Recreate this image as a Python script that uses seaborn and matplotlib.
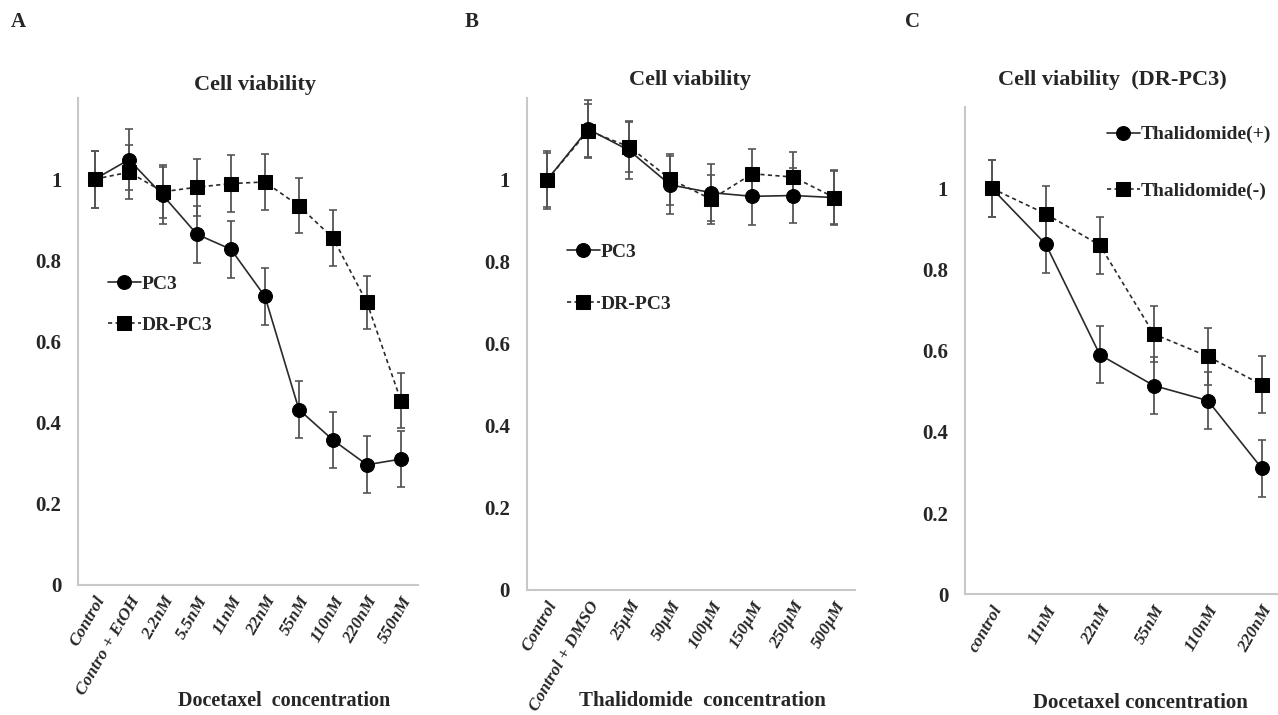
import numpy as np
import pandas as pd
import seaborn as sns
import matplotlib.pyplot as plt

# panel A - docetaxel
a_labels = ["Control", "Contro + EtOH", "2.2nM", "5.5nM", "11nM", "22nM", "55nM", "110nM", "220nM", "550nM"]
a_pc3 = [1.0, 1.048, 0.96, 0.864, 0.827, 0.711, 0.432, 0.357, 0.296, 0.31]
a_pc3_err = [0.07, 0.075, 0.07, 0.07, 0.07, 0.07, 0.07, 0.07, 0.07, 0.07]
a_dr = [1.0, 1.017, 0.969, 0.98, 0.989, 0.993, 0.934, 0.855, 0.696, 0.454]
a_dr_err = [0.07, 0.066, 0.065, 0.07, 0.07, 0.068, 0.068, 0.068, 0.066, 0.068]

# panel B - thalidomide
b_labels = ["Control", "Control + DMSO", "25\u03bcM", "50\u03bcM", "100\u03bcM", "150\u03bcM", "250\u03bcM", "500\u03bcM"]
b_pc3 = [1.0, 1.124, 1.072, 0.988, 0.969, 0.96, 0.962, 0.957]
b_pc3_err = [0.065, 0.07, 0.07, 0.07, 0.07, 0.07, 0.068, 0.065]
b_dr = [1.0, 1.12, 1.081, 1.002, 0.953, 1.015, 1.007, 0.957]
b_dr_err = [0.07, 0.065, 0.062, 0.062, 0.06, 0.06, 0.062, 0.068]

# panel C - DR-PC3 with/without thalidomide
c_labels = ["control", "11nM", "22nM", "55nM", "110nM", "220nM"]
c_plus = [1.0, 0.862, 0.59, 0.514, 0.477, 0.31]
c_plus_err = [0.07, 0.07, 0.07, 0.07, 0.07, 0.07]
c_minus = [1.0, 0.937, 0.86, 0.641, 0.586, 0.516]
c_minus_err = [0.07, 0.07, 0.07, 0.07, 0.07, 0.07]

sns.set_style("white")
plt.rcParams['font.family'] = ['Liberation Serif', 'DejaVu Serif']
plt.rcParams['font.weight'] = 'bold'

fig = plt.figure(figsize=(12.78, 7.15), dpi=100)


def panel(rect, labels, s1, e1, s2, e2, names, leg_pos, leg_space, leg_size):
    ax = fig.add_axes(rect)
    x = np.arange(len(labels))
    df = pd.DataFrame({
        "x": np.concatenate([x, x]),
        "y": s1 + s2,
        "grp": [names[0]] * len(x) + [names[1]] * len(x),
    })
    for y, e in [(s1, e1), (s2, e2)]:
        ax.errorbar(x, y, yerr=e, fmt="none", ecolor="#555555", elinewidth=1.3,
                    capsize=3, capthick=1.2, zorder=1)
    sns.lineplot(data=df, x="x", y="y", hue="grp", style="grp",
                 palette=["#2a2a2a", "#2a2a2a"],
                 markers={names[0]: "o", names[1]: "s"},
                 dashes={names[0]: "", names[1]: (2.5, 2)},
                 markersize=10, linewidth=1.2, markeredgecolor="black",
                 ax=ax, zorder=3)
    for ln in ax.lines:
        ln.set_markerfacecolor("black")
    ax.set_xlim(-0.5, len(labels) - 0.5)
    ax.set_ylim(0, 1.2)
    ax.set_yticks([0, 0.2, 0.4, 0.6, 0.8, 1.0])
    ax.set_yticklabels(["0", "0.2", "0.4", "0.6", "0.8", "1"], fontsize=15, fontweight="bold")
    ax.set_xticks(x)
    ax.set_xticklabels(labels, rotation=60, ha="right", rotation_mode="anchor",
                       fontsize=12.5, fontweight="bold", style="italic")
    ax.set_xticks(np.arange(len(labels) + 1) - 0.5, minor=True)
    ax.tick_params(axis="x", which="major", length=0, pad=6)
    ax.tick_params(axis="x", which="minor", length=5, color="#bbbbbb", width=1.2)
    ax.tick_params(axis="y", length=0, pad=12)
    for s in ["top", "right"]:
        ax.spines[s].set_visible(False)
    for s in ["left", "bottom"]:
        ax.spines[s].set_color("#c8c8c8")
        ax.spines[s].set_linewidth(1.5)
    ax.set_xlabel("")
    ax.set_ylabel("")
    ax.legend(loc="upper left", bbox_to_anchor=leg_pos, frameon=False,
              prop={"size": leg_size, "weight": "bold"}, handlelength=1.7,
              handletextpad=0.05, labelspacing=leg_space, borderpad=0,
              borderaxespad=0)
    return ax


axA = panel([0.061, 0.182, 0.266, 0.681], a_labels, a_pc3, a_pc3_err, a_dr, a_dr_err,
            ["PC3", "DR-PC3"], (0.088, 0.635), 1.2, 14)
axB = panel([0.412, 0.175, 0.257, 0.688], b_labels, b_pc3, b_pc3_err, b_dr, b_dr_err,
            ["PC3", "DR-PC3"], (0.122, 0.705), 1.8, 14)
axC = panel([0.755, 0.169, 0.2535, 0.681], c_labels, c_plus, c_plus_err, c_minus, c_minus_err,
            ["Thalidomide(+)", "Thalidomide(-)"], (0.438, 0.962), 2.0, 14)


def ftext(px, py, s, size):
    fig.text(px / 1278, 1 - py / 715, s, fontsize=size, fontweight="bold", ha="center", va="center")


ftext(255, 85, "Cell viability", 16)
ftext(690, 80, "Cell viability", 16)
ftext(1112, 80, "Cell viability  (DR-PC3)", 16)

ftext(284, 701, "Docetaxel  concentration", 14.5)
ftext(702, 701, "Thalidomide  concentration", 15)
ftext(1140, 703, "Docetaxel concentration", 15)

ftext(18, 22, "A", 15)
ftext(472, 22, "B", 15)
ftext(912, 22, "C", 15)

fig.savefig("out.png", dpi=100)
